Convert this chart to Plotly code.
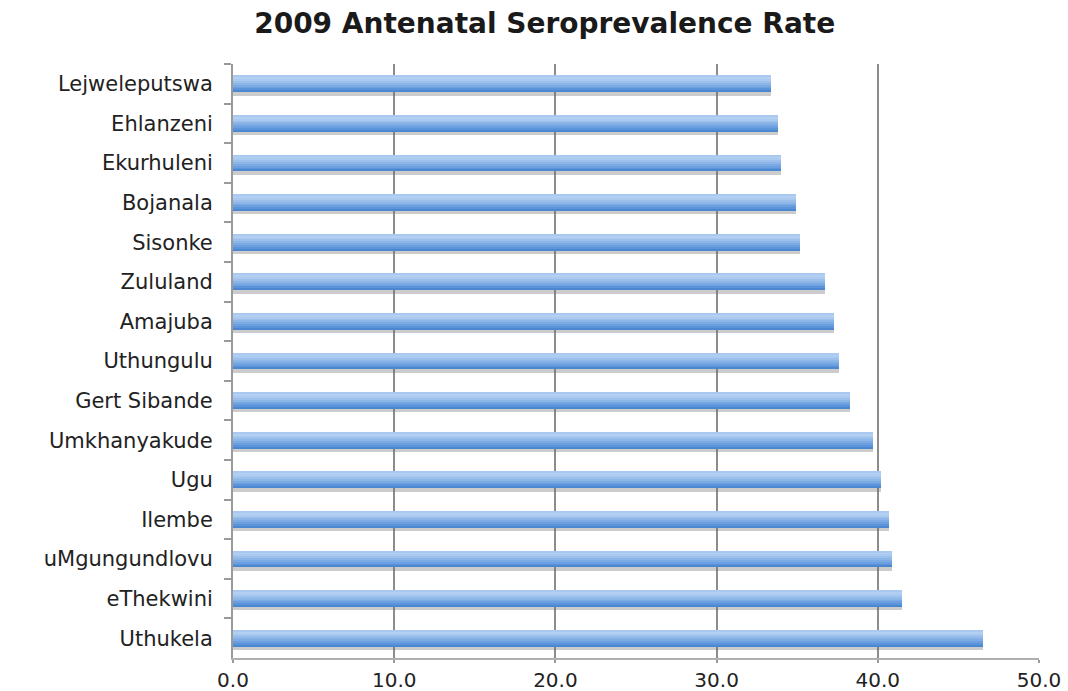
import plotly.graph_objects as go

# District names, top to bottom
districts = [
    "Lejweleputswa", "Ehlanzeni", "Ekurhuleni", "Bojanala", "Sisonke",
    "Zululand", "Amajuba", "Uthungulu", "Gert Sibande", "Umkhanyakude",
    "Ugu", "Ilembe", "uMgungundlovu", "eThekwini", "Uthukela",
]
# Antenatal HIV seroprevalence (%), 2009
rates = [
    33.4, 33.8, 34.0, 34.9, 35.2,
    36.7, 37.3, 37.6, 38.3, 39.7,
    40.2, 40.7, 40.9, 41.5, 46.5,
]
x_ticks = [0, 10, 20, 30, 40, 50]
x_tick_text = ["0.0", "10.0", "20.0", "30.0", "40.0", "50.0"]

FONT = "DejaVu Sans, Verdana, sans-serif"

fig = go.Figure()

# soft drop shadow under each bar
fig.add_trace(go.Bar(
    x=rates, y=districts, orientation="h",
    offset=-0.19, width=0.49,
    marker=dict(color="rgba(110,110,110,0.35)", line=dict(width=0)),
    hoverinfo="skip", showlegend=False,
))

# vertical gradient on the bars, built from thin stacked stripes
stripe_colors = [
    "#a9c9f0", "#b3d0f2", "#abcaf0", "#9cc0eb", "#8cb6e7",
    "#7cabe3", "#6c9fdf", "#5c94da", "#4c88d2",
]
thickness = 0.42
n = len(stripe_colors)
step = thickness / n
for i, c in enumerate(stripe_colors):
    fig.add_trace(go.Bar(
        x=rates, y=districts, orientation="h",
        offset=-thickness / 2 + i * step, width=step + 0.004,
        marker=dict(color=c, line=dict(width=0)),
        hoverinfo="x+y" if i == 0 else "skip", showlegend=False,
    ))

fig.update_layout(
    width=1068, height=691,
    margin=dict(l=233, r=29, t=64, b=33, autoexpand=False),
    paper_bgcolor="white", plot_bgcolor="white",
    barmode="overlay", bargap=0,
    title=dict(
        text="<b>2009 Antenatal Seroprevalence Rate</b>",
        x=0.51, xanchor="center", y=0.966, yanchor="middle",
        font=dict(family=FONT, size=28, color="#1a1a1a"),
    ),
    font=dict(family=FONT, color="#222222"),
    xaxis=dict(
        range=[0, 50], tickvals=x_ticks, ticktext=x_tick_text,
        showgrid=True, gridcolor="#8c8c8c", gridwidth=2,
        showline=True, linecolor="#b0b0b0", linewidth=2,
        ticks="outside", ticklen=3, tickcolor="#9a9a9a", tickwidth=1.5,
        tickfont=dict(size=20, color="#222222"),
        zeroline=False, fixedrange=True,
    ),
    yaxis=dict(
        categoryorder="array", categoryarray=districts,
        autorange="reversed",
        showline=True, linecolor="#9a9a9a", linewidth=2,
        ticks="outside", ticklen=7, tickcolor="#9a9a9a", tickwidth=1.5,
        tickson="boundaries", ticklabelstandoff=14,
        tickfont=dict(size=21, color="#222222"),
        showgrid=False, fixedrange=True,
    ),
)

fig.write_html("out.html")
